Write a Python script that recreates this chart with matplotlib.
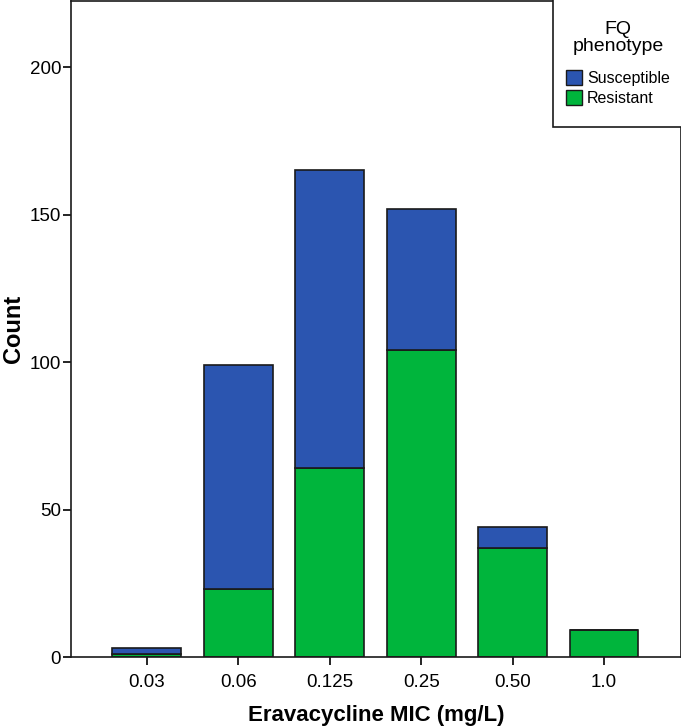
import matplotlib
matplotlib.use("Agg")
import matplotlib.pyplot as plt
import numpy as np
from matplotlib.patches import Patch, Rectangle

plt.rcParams['font.family'] = ['Liberation Sans', 'DejaVu Sans']

mic_labels = ['0.03', '0.06', '0.125', '0.25', '0.50', '1.0']
resistant = [1, 23, 64, 104, 37, 9]
susceptible = [2, 76, 101, 48, 7, 0]

c_sus = '#2b55b0'
c_res = '#00b53c'
edge = '#1a1a1a'

fig = plt.figure(figsize=(6.81, 7.26), dpi=100)
ax = fig.add_axes([0.104, 0.095, 0.896, 0.904])

x = np.arange(len(mic_labels))
ax.bar(x, resistant, width=0.75, color=c_res, edgecolor=edge, linewidth=1.2)
ax.bar(x, susceptible, width=0.75, bottom=resistant, color=c_sus,
       edgecolor=edge, linewidth=1.2)

ax.set_xlim(-0.83, 5.84)
ax.set_ylim(0, 222.5)
ax.set_xticks(x)
ax.set_xticklabels(mic_labels)
ax.set_yticks([0, 50, 100, 150, 200])
ax.tick_params(axis='both', direction='out', length=6, width=1.2, labelsize=13.5, pad=6)
ax.tick_params(axis='y', pad=1)
for s in ax.spines.values():
    s.set_linewidth(1.2)
    s.set_color(edge)

ax.set_xlabel('Eravacycline MIC (mg/L)', fontsize=16, fontweight='bold', labelpad=10)
ax.set_ylabel('Count', fontsize=17, fontweight='bold', labelpad=3)

# legend box drawn by hand so its padding matches
box = Rectangle((0.79, 0.808), 0.25, 0.25, transform=ax.transAxes, clip_on=False,
                facecolor='white', edgecolor=edge, linewidth=1.2, zorder=5)
ax.add_patch(box)

handles = [Patch(facecolor=c_sus, edgecolor=edge, label='Susceptible'),
           Patch(facecolor=c_res, edgecolor=edge, label='Resistant')]
leg = ax.legend(handles=handles, title='FQ\nphenotype', loc='upper center',
                bbox_to_anchor=(0.897, 0.977), borderaxespad=0, frameon=False,
                fontsize=11.5, title_fontsize=14,
                handlelength=1.0, handleheight=1.1, handletextpad=0.3,
                labelspacing=0.25, borderpad=0.3)
leg.set_zorder(6)
leg.get_title().set_multialignment('center')
leg.get_title().set_linespacing(1.0)
leg._legend_box.sep = 11

plt.savefig('out.png', dpi=100)
